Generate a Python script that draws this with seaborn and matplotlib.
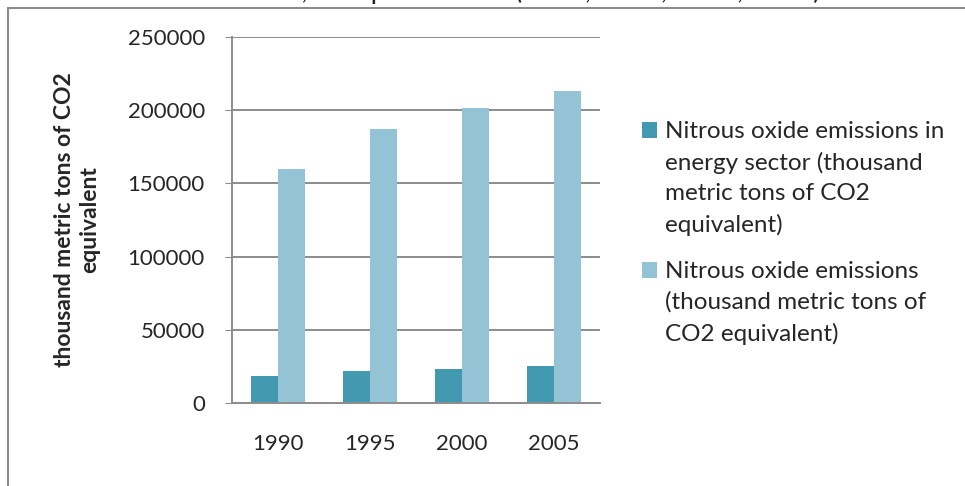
import seaborn as sns
import pandas as pd
import matplotlib.pyplot as plt
from matplotlib.lines import Line2D
from matplotlib.patches import Rectangle
from matplotlib.legend_handler import HandlerPatch

# data
years = ['1990', '1995', '2000', '2005']
energy_n2o = [18400, 21600, 23200, 25300]
total_n2o = [159600, 187200, 201700, 212900]
series_names = ['Nitrous oxide emissions in\nenergy sector (thousand\nmetric tons of CO2\nequivalent)',
                'Nitrous oxide emissions\n(thousand metric tons of\nCO2 equivalent)']
colors = ['#4399b0', '#93c3d5']

df = pd.DataFrame({
    'year': years * 2,
    'series': [series_names[0]] * 4 + [series_names[1]] * 4,
    'value': energy_n2o + total_n2o,
})

sns.set_style('white')
plt.rcParams['font.family'] = ['Lato', 'DejaVu Sans']

fig = plt.figure(figsize=(9.65, 4.86), dpi=100)
ax = fig.add_axes([0.2404, 0.1708, 0.3813, 0.7531])

sns.barplot(data=df, x='year', y='value', hue='series', palette=colors,
            width=0.58, linewidth=0, saturation=1, ax=ax)

ax.set_ylim(0, 250000)
ax.set_yticks(range(0, 250001, 50000))
ax.yaxis.grid(True, color='#8c8c8c', linewidth=1.4)
ax.set_axisbelow(True)
for s in ['top', 'right']:
    ax.spines[s].set_visible(False)
for s in ['left', 'bottom']:
    ax.spines[s].set_color('#8c8c8c')
    ax.spines[s].set_linewidth(1.4)
ax.tick_params(axis='y', left=True, length=5, color='#8c8c8c', labelsize=16, pad=14.5)
ax.tick_params(axis='x', bottom=False, labelsize=16, pad=19)
ax.set_xlabel('')
ax.set_ylabel('thousand metric tons of CO2\nequivalent', fontsize=16.5,
              fontweight='bold', labelpad=20)


# legend squares sit on the first line of each wrapped label
def top_square(n_lines):
    def make(legend, orig_handle, xdescent, ydescent, width, height, fontsize):
        dy = (n_lines - 1) / 2 * 23.4
        return Rectangle((-xdescent, -ydescent + dy), width, height)
    return HandlerPatch(patch_func=make)


handles, labels = ax.get_legend_handles_labels()
hmap = {h: top_square(lab.count('\n') + 1) for h, lab in zip(handles, labels)}
leg = ax.legend(handles, labels, handler_map=hmap, loc='center left',
                bbox_to_anchor=(0.643, 0.521), bbox_transform=fig.transFigure,
                frameon=False, fontsize=17.5, handlelength=0.62, handleheight=0.62,
                handletextpad=0.3, labelspacing=1.0)
for t in leg.get_texts():
    t.set_linespacing(1.55)

# chart frame and the cut-off title above it
fig.add_artist(Line2D([0.0083, 0.0083], [0, 0.9835], color='#8c8c8c', lw=1.5,
                      transform=fig.transFigure))
fig.add_artist(Line2D([0.0083, 1], [0.9835, 0.9835], color='#8c8c8c', lw=1.5,
                      transform=fig.transFigure))
fig.text(0.497, 1 + 1.5 / 486, 'Annual Totals, European Union (1990, 1995, 2000, 2005)',
         ha='center', va='baseline', fontsize=19.5, color='#222222')

plt.savefig('out.png', dpi=100)
